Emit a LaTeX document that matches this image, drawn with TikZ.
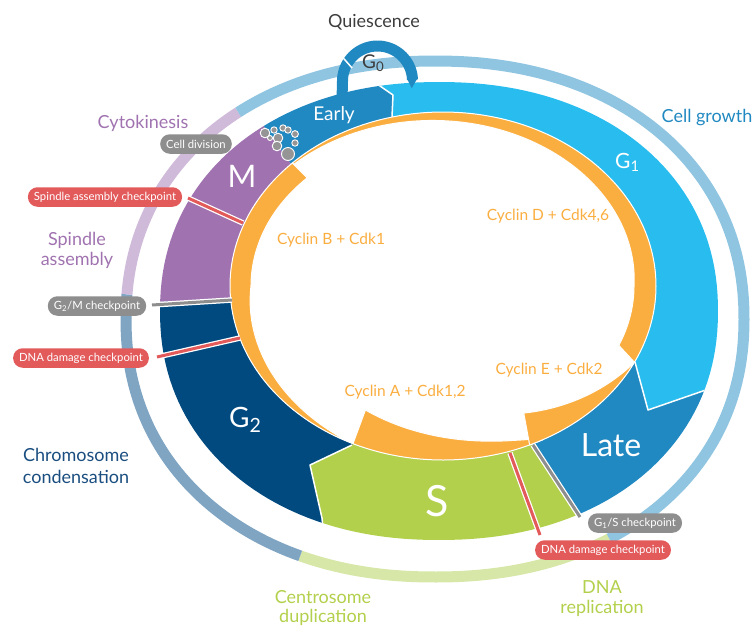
\documentclass[tikz,border=0pt]{standalone}
\usepackage{fontspec}
\setmainfont{Lato}
\definecolor{cEarly}{HTML}{2189C1}
\definecolor{cGone}{HTML}{29BDEF}
\definecolor{cM}{HTML}{A073B0}
\definecolor{cGtwo}{HTML}{004A80}
\definecolor{cS}{HTML}{B2D04B}
\definecolor{cOr}{HTML}{FBAE40}
\definecolor{rBlue}{HTML}{8FC5E1}
\definecolor{rGreen}{HTML}{D7E7A7}
\definecolor{rSteel}{HTML}{80A5C3}
\definecolor{rPurple}{HTML}{CFBADA}
\definecolor{cRed}{HTML}{E35A5B}
\definecolor{cGrey}{HTML}{8E8E8E}
\definecolor{cBub}{HTML}{959595}
\definecolor{cDark}{HTML}{3D3D3D}
\definecolor{cNavy}{HTML}{1A4E80}
\newcommand\fz[2]{\fontsize{#1}{#2}\selectfont}
\newcommand\sbs[1]{\textsubscript{#1}}
\begin{document}
\begin{tikzpicture}[x=1pt,y=-1pt,
  lbl/.style={font=\fz{18}{20}, align=center, inner sep=0pt},
  inl/.style={font=\fz{#1}{#1}, text=white, inner sep=0pt},
  cyc/.style={font=\fz{15.5}{15.5}, text=cOr, inner sep=0pt},
  pill/.style={rounded corners=9.5pt, fill=#1, text=white, font=\fz{11.3}{11.3}, minimum height=19.5pt, inner xsep=6pt, inner ysep=0pt},
  ckline/.style={draw=#1, line width=3, preaction={draw=white, line width=5.5}},
  sep/.style={white, line width=1.5, line join=round},
  bub/.style={fill=cBub, draw=white, line width=0.9},
  orng/.style={fill=cOr, draw=white, line width=1, line join=round},
]
\useasboundingbox (0,0) rectangle (754,627);

% thin outer ring
\begin{scope}[line width=11]
\draw[rGreen] plot[domain=57.3:114.2,samples=50] ({435+309*cos(\x)*abs(cos(\x))^(-0.07)},{319+258*sin(\x)*abs(sin(\x))^(-0.07)});
\draw[rSteel] plot[domain=114.2:184.6,samples=60] ({435+309*cos(\x)*abs(cos(\x))^(-0.07)},{319+258*sin(\x)*abs(sin(\x))^(-0.07)});
\draw[rPurple] plot[domain=184.6:232,samples=40] ({435+309*cos(\x)*abs(cos(\x))^(-0.07)},{319+258*sin(\x)*abs(sin(\x))^(-0.07)});
\draw[rBlue] plot[domain=232:417.3,samples=150] ({435+309*cos(\x)*abs(cos(\x))^(-0.07)},{319+258*sin(\x)*abs(sin(\x))^(-0.07)});
\end{scope}

% main ring
\begin{scope}
\clip plot[domain=0.3:360.3,samples=181] ({439+279*cos(\x)*abs(cos(\x))^(-0.07)},{311+229*sin(\x)*abs(sin(\x))^(-0.07)}) -- cycle;
\fill[cEarly] (440,290) -- (291,164) -- (265,128) -- (230,80) -- (360,30) -- (365,75) -- (380,86) -- (393,95) -- (392,117) -- cycle;
\fill[cGone] (440,290) -- (392,117) -- (393,95) -- (380,86) -- (365,75) -- (360,30) -- (760,30) -- (760,370) -- (700,392) -- (648,410) -- (635,362) -- cycle;
\fill[cEarly] (440,290) -- (635,362) -- (648,410) -- (700,392) -- (760,370) -- (760,620) -- (610,620) -- (580,517) -- (533,445) -- cycle;
\fill[cS] (440,290) -- (533,445) -- (580,517) -- (610,620) -- (330,620) -- (326,560) -- (322,518) -- (310,465) -- (352,445) -- cycle;
\fill[cGtwo] (440,290) -- (352,445) -- (310,465) -- (322,518) -- (326,560) -- (330,620) -- (100,620) -- (100,303) -- (231,300) -- cycle;
\fill[cM] (440,290) -- (231,300) -- (100,303) -- (100,40) -- (230,80) -- (265,128) -- (291,164) -- cycle;
\draw[sep] (392,117) -- (393,95) -- (380,86) -- (365,75);
\draw[sep] (635,362) -- (648,410) -- (700,392) -- (740,378);
\draw[sep] (352,445) -- (310,465) -- (322,518) -- (326,560);
\end{scope}

% white centre
\fill[white] plot[domain=0:360,samples=181] ({443+213*cos(\x)},{286+174*sin(\x)}) -- cycle;

% cyclin bands
\fill[orng] plot[domain=225:386,samples=120] ({443+213*cos(\x)},{286+174*sin(\x)}) -- plot[domain=383:225,samples=120] ({443+(213-min(22,2+20*(\x-225)/135))*cos(\x)},{286+(174-min(22,2+20*(\x-225)/135))*sin(\x)}) -- cycle;
\fill[orng] plot[domain=225:115,samples=80] ({443+213*cos(\x)},{286+174*sin(\x)}) -- plot[domain=115:225,samples=80] ({443+(213-min(21,21*(\x-115)/65))*cos(\x)},{286+(174-min(21,21*(\x-115)/65))*sin(\x)}) -- cycle;
\fill[orng] plot[domain=115:62,samples=60] ({443+213*cos(\x)},{286+174*sin(\x)}) -- plot[domain=62:116,samples=60] ({443+(213-36*((\x-61.9)/54)^0.7)*cos(\x)},{286+(174-36*((\x-61.9)/54)^0.7)*sin(\x)}) -- cycle;
\fill[orng] plot[domain=26:66,samples=50] ({443+213*cos(\x)},{286+174*sin(\x)}) -- plot[domain=63.5:26,samples=50] ({443+(213-32*(\x-26)/37.5)*cos(\x)},{286+(174-32*(\x-26)/37.5)*sin(\x)}) -- cycle;

% G0 arrow
\draw[cEarly, line width=11] (342,100) -- plot[domain=180:358,samples=60] ({377.5+35*cos(\x)},{81+35*sin(\x)});
\fill[cEarly] ({377.5+40.5*cos(355)},{81+40.5*sin(355)}) -- ({377.5+29.5*cos(355)},{81+29.5*sin(355)}) -- ({377.5+35*cos(12)},{81+35*sin(12)}) -- cycle;
\draw[white, line width=1.5] ({377.5+28.5*cos(207)},{81+28.5*sin(207)}) -- ({377.5+41.5*cos(214)},{81+41.5*sin(214)});

% bubbles
\foreach \bx/\by/\br in {265/133/4.8, 274/130/3.2, 278/138/4.8, 277/146/4.8, 283/128/3.2, 288/130/3.2, 295/134/3.4, 295/143/3.2, 288/154/6.5, 270/138/2.5}
  \filldraw[bub] (\bx,\by) circle[radius=\br];

% checkpoint markers
\coordinate (kSpinIn) at (243,223); \coordinate (kSpinOut) at (188,198);
\coordinate (kGMIn) at (232,300); \coordinate (kGMOut) at (152,305);
\coordinate (kDaIn) at (240,338); \coordinate (kDaOut) at (157,357);
\coordinate (kGSIn) at (533,445); \coordinate (kGSOut) at (580,517);
\coordinate (kDbIn) at (510,453); \coordinate (kDbOut) at (540,535);
\draw[ckline=cRed] (kSpinIn) -- (kSpinOut);
\draw[ckline=cGrey] (kGMIn) -- (kGMOut);
\draw[ckline=cRed] (kDaIn) -- (kDaOut);
\draw[ckline=cGrey] (kGSIn) -- (kGSOut);
\draw[ckline=cRed] (kDbIn) -- (kDbOut);

% pills
\node[pill=cGrey] (pcell) at (196,144) {Cell division};
\node[pill=cRed] (pspin) at (105,197) {Spindle assembly checkpoint};
\node[pill=cGrey] (pgm) at (97,306) {G\sbs{2}/M checkpoint};
\node[pill=cRed] (pdna1) at (81,358) {DNA damage checkpoint};
\node[pill=cGrey] (pgs) at (635,523) {G\sbs{1}/S checkpoint};
\node[pill=cRed] (pdna2) at (603,550) {DNA damage checkpoint};

% labels
\node[lbl, text=cDark] (quies) at (374,22) {Quiescence};
\node[font=\fz{19}{19}, text=cDark, anchor=base west, inner sep=0pt] (gzero) at (362,68) {G\sbs{0}};
\node[inl=19] (early) at (334,115) {Early};
\node[lbl, text=cEarly] (growth) at (707,118) {Cell growth};
\node[inl=21, anchor=base west] (gone) at (615,168) {G\sbs{1}};
\node[lbl, text=cM] (cytok) at (143,123) {Cytokinesis};
\node[inl=31] (mlab) at (242,176) {M};
\node[lbl, text=cM] (spin) at (77,250) {Spindle\\assembly};
\node[cyc] (cycB) at (331,240) {Cyclin B + Cdk1};
\node[cyc] (cycD) at (548,216) {Cyclin D + Cdk4,6};
\node[cyc] (cycE) at (549,370) {Cyclin E + Cdk2};
\node[cyc] (cycA) at (405,392) {Cyclin A + Cdk1,2};
\node[inl=28, anchor=base west] (gtwo) at (229,427) {G\sbs{2}};
\node[inl=32] (late) at (611,445) {Late};
\node[inl=43] (slab) at (437,501) {S};
\node[lbl, text=cNavy, font=\fz{18}{22}] (chrom) at (76,466) {Chromosome\\condensation};
\node[lbl, text=cS, font=\fz{18}{19}] (centro) at (323,608) {Centrosome\\duplication};
\node[lbl, text=cS] (dnarep) at (602,599) {DNA\\replication};
\end{tikzpicture}
\end{document}
